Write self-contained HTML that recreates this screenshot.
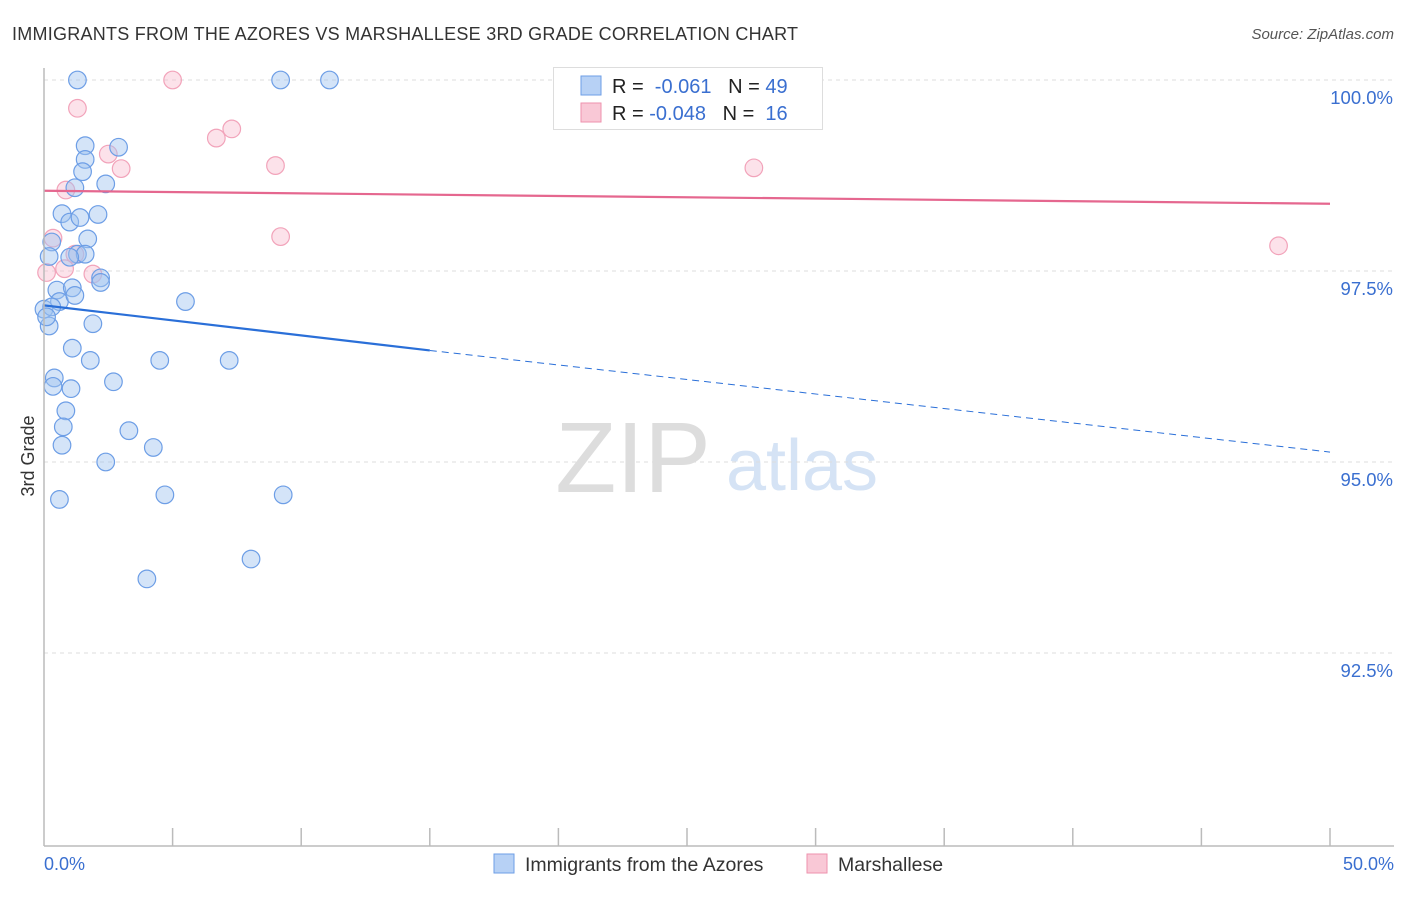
<!DOCTYPE html>
<html><head><meta charset="utf-8"><style>
body{margin:0;background:#fff;font-family:"Liberation Sans",sans-serif;}
svg text{font-family:"Liberation Sans",sans-serif;}
</style></head><body>
<svg id="chart" width="1406" height="892" viewBox="0 0 1406 892">
<text x="12" y="40" font-size="18" fill="#333" textLength="786">IMMIGRANTS FROM THE AZORES VS MARSHALLESE 3RD GRADE CORRELATION CHART</text>
<text x="1394" y="39" font-size="15" fill="#555" text-anchor="end" font-style="italic">Source: ZipAtlas.com</text>
<text x="633" y="492" font-size="100" fill="#ddd" text-anchor="middle" font-family="Liberation Serif">ZIP</text>
<text x="802" y="490" font-size="72" fill="#d5e3f5" text-anchor="middle">atlas</text>
<text transform="translate(34,456) rotate(-90)" font-size="18" fill="#333" text-anchor="middle">3rd Grade</text>
<g id="grid"></g>
<g id="pts"></g>
<g id="trend"></g>
<line x1="44" y1="68" x2="44" y2="846" stroke="#bbb" stroke-width="1.5"/>
<line x1="44" y1="846" x2="1394" y2="846" stroke="#bbb" stroke-width="1.5"/>
<g id="xticks"></g>
<text x="44" y="870" font-size="18" fill="#3a6fd0">0.0%</text>
<text x="1394" y="870" font-size="18" fill="#3a6fd0" text-anchor="end">50.0%</text>
<g>
<rect x="553.5" y="67.5" width="269" height="62" fill="#fff" stroke="#ddd"/>
<rect x="581" y="76" width="20" height="19" fill="#b7d1f5" stroke="#6d9ee6"/>
<rect x="581" y="103" width="20" height="19" fill="#f9c8d6" stroke="#ee92ad"/>
<text x="612" y="93" font-size="20" fill="#222">R = <tspan fill="#3a6fd0">&#160;-0.061</tspan>&#160;&#160;&#160;N = <tspan fill="#3a6fd0">49</tspan></text>
<text x="612" y="120" font-size="20" fill="#222">R = <tspan fill="#3a6fd0">-0.048</tspan>&#160;&#160;&#160;N = <tspan fill="#3a6fd0">&#160;16</tspan></text>
</g>
<g>
<rect x="494" y="854" width="20" height="19" fill="#b7d1f5" stroke="#6d9ee6"/>
<text x="525" y="871" font-size="19.5" fill="#333">Immigrants from the Azores</text>
<rect x="807" y="854" width="20" height="19" fill="#f9c8d6" stroke="#ee92ad"/>
<text x="838" y="871" font-size="19.5" fill="#333">Marshallese</text>
</g>
</svg>
<script>
const yTicks=[100,97.5,95,92.5];
const yTickLabels=["100.0%","97.5%","95.0%","92.5%"];
const azoresX=[1.3,9.2,11.1,1.6,2.9,1.6,1.5,2.4,1.2,0.7,2.1,1.0,1.4,1.7,0.3,0.2,1.3,1.6,1.0,2.2,2.2,0.5,1.1,0.6,1.2,0.0,0.3,0.2,5.5,1.9,1.1,1.8,4.5,7.2,0.4,0.35,1.05,2.7,0.85,0.75,3.3,0.7,4.25,2.4,0.6,4.7,9.3,8.05,4.0,0.1];
const azoresY=[100,100,100,99.14,99.12,98.96,98.8,98.64,98.59,98.25,98.24,98.14,98.2,97.92,97.88,97.69,97.72,97.72,97.68,97.41,97.35,97.25,97.28,97.1,97.18,97.0,97.03,96.78,97.1,96.81,96.49,96.33,96.33,96.33,96.1,95.99,95.96,96.05,95.67,95.46,95.41,95.22,95.19,95.0,94.51,94.57,94.57,93.73,93.47,96.9];
const marshX=[5.0,1.3,6.7,7.3,2.5,3.0,9.0,27.6,0.85,9.2,0.35,0.8,0.1,1.9,1.2,48.0];
const marshY=[100,99.63,99.24,99.36,99.03,98.84,98.88,98.85,98.56,97.95,97.93,97.53,97.48,97.46,97.72,97.83];
const trendAzores=[97.05,96.46,95.13];
const trendMarsh=[98.55,98.38];
const X=v=>44+v*25.72, Y=v=>80+(100-v)*76.4;
const ns="http://www.w3.org/2000/svg";
function mk(t,a,p){const e=document.createElementNS(ns,t);for(const k in a)e.setAttribute(k,a[k]);p.appendChild(e);return e;}
const grid=document.getElementById('grid');
yTicks.forEach((t,i)=>{
 const l=mk('line',{x1:44,x2:1394,y1:Y(t),y2:Y(t),stroke:'#ddd','stroke-dasharray':'4,4'},grid);
 
 
 const tx=mk('text',{x:1393,y:Y(t)+24,'font-size':18.5,fill:'#3a6fd0','text-anchor':'end'},grid);
 tx.textContent=yTickLabels[i];
 
 
});
const xt=document.getElementById('xticks');
for(let i=1;i<=10;i++){const l=mk('line',{x1:X(i*5),x2:X(i*5),y1:828,y2:846,stroke:'#bbb','stroke-width':1.5},xt);
 
 }
const pts=document.getElementById('pts');
marshX.forEach((x,i)=>{const c=mk('circle',{cx:X(x),cy:Y(marshY[i]),r:8.8,fill:'rgba(249,190,208,0.45)',stroke:'#f2a3ba','stroke-width':1.2},pts);
 
 });
azoresX.forEach((x,i)=>{const c=mk('circle',{cx:X(x),cy:Y(azoresY[i]),r:8.8,fill:'rgba(160,195,240,0.45)',stroke:'#6d9ee6','stroke-width':1.2},pts);
 
 });
const tr=document.getElementById('trend');
const a1=mk('line',{x1:X(0),y1:Y(trendAzores[0]),x2:X(15),y2:Y(trendAzores[1]),stroke:'#2a6fd8','stroke-width':2.2},tr);


const a2=mk('line',{x1:X(15),y1:Y(trendAzores[1]),x2:X(50),y2:Y(trendAzores[2]),stroke:'#2a6fd8','stroke-width':1,'stroke-dasharray':'7,5'},tr);


const m1=mk('line',{x1:X(0),y1:Y(trendMarsh[0]),x2:X(50),y2:Y(trendMarsh[1]),stroke:'#e5678f','stroke-width':2.2},tr);


</script>
</body></html>
